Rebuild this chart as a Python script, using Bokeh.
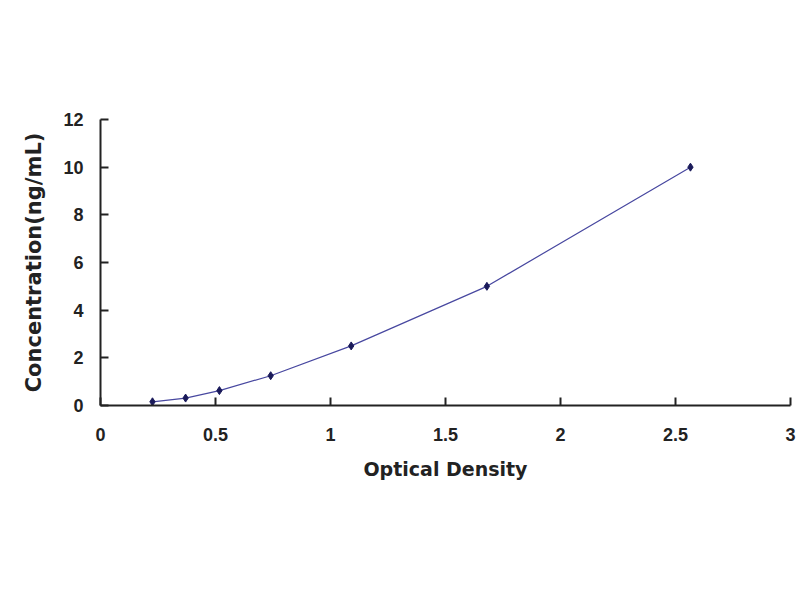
from bokeh.plotting import figure
from bokeh.embed import file_html
from bokeh.resources import INLINE
from bokeh.models import Range1d, FixedTicker

od = [0.226, 0.37, 0.517, 0.74, 1.09, 1.68, 2.565]
conc = [0.156, 0.312, 0.625, 1.25, 2.5, 5.0, 10.0]
x_ticks = [0, 0.5, 1, 1.5, 2, 2.5, 3]
y_ticks = [0, 2, 4, 6, 8, 10, 12]

p = figure(width=798, height=588, output_backend="svg", toolbar_location=None,
           x_range=Range1d(0, 3), y_range=Range1d(0, 12),
           min_border_left=100, min_border_right=8, min_border_top=119, min_border_bottom=183)
p.outline_line_color = None
p.xgrid.visible = False
p.ygrid.visible = False

p.line(od, conc, line_color="#4848a0", line_width=1.2)
p.scatter(od, conc, marker="diamond", size=8, color="#1a1a5a")

for ax in (p.xaxis, p.yaxis):
    ax.axis_line_width = 2
    ax.axis_line_color = "#222222"
    ax.major_tick_line_color = "#222222"
    ax.major_tick_line_width = 2
    ax.major_tick_in = 8
    ax.major_tick_out = 0
    ax.minor_tick_line_color = None
    ax.major_label_text_font = "Liberation Sans"
    ax.major_label_text_font_style = "bold"
    ax.major_label_text_font_size = "18px"
    ax.major_label_text_color = "#222222"
    ax.axis_label_text_font = "DejaVu Sans"
    ax.axis_label_text_font_style = "bold"
    ax.axis_label_text_color = "#222222"

p.xaxis.axis_label_text_font_size = "19px"
p.yaxis.axis_label_text_font_size = "21px"
p.xaxis.ticker = FixedTicker(ticks=x_ticks)
p.yaxis.ticker = FixedTicker(ticks=y_ticks)
p.xaxis.major_label_standoff = 22
p.yaxis.major_label_standoff = 17
p.xaxis.axis_label = "Optical Density"
p.yaxis.axis_label = "Concentration(ng/mL)"
p.xaxis.axis_label_standoff = 14
p.yaxis.axis_label_standoff = 14

open("out.html", "w").write(file_html(p, INLINE))
